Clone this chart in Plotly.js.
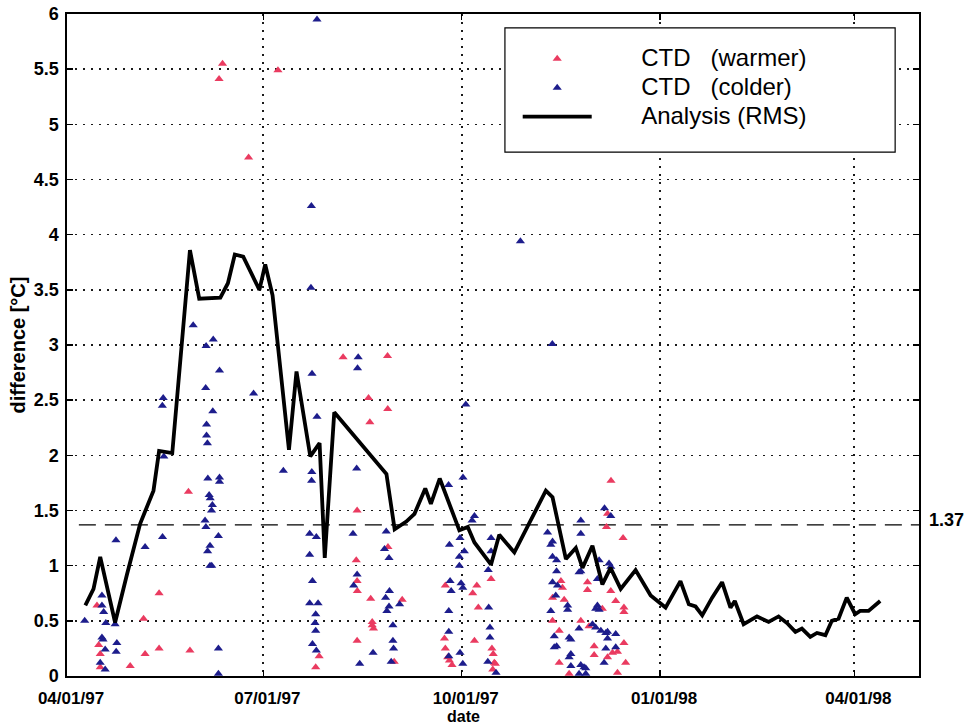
<!DOCTYPE html>
<html>
<head>
<meta charset="utf-8">
<script src="https://cdn.plot.ly/plotly-3.0.1.min.js"></script>
<style>
  html, body { margin: 0; padding: 0; background: #ffffff; }
  #chart { width: 975px; height: 726px; }
</style>
</head>
<body>
<div id="chart"></div>
<script>
// ---- Data (days counted from 1997-04-01) ----
const startDate = '1997-04-01';

// Analysis (RMS) line
const rmsDay = [8.5,12.3,15.4,22.3,27.8,33.9,40.1,42.7,48.8,57.0,61.3,71.1,74.6,77.8,81.7,85.5,89.2,91.9,95.3,102.9,106.4,112.8,117.1,119.5,123.9,148.1,151.9,157.3,161.1,166.1,168.7,172.8,181.9,185.8,188.9,196.6,200.4,207.4,222.0,225.1,231.3,235.9,239.0,243.6,248.2,252.0,256.7,263.6,270.6,277.5,284.4,288.3,291.4,294.5,299.1,303.7,307.6,309.6,313.7,319.9,325.3,329.9,333.8,337.7,340.7,344.6,347.7,351.6,354.6,357.7,361.5,365.4,367.7,371.6,377.0];
const rmsVal = [0.64,0.79,1.08,0.485,0.92,1.38,1.68,2.04,2.02,3.86,3.42,3.43,3.56,3.82,3.80,3.65,3.50,3.73,3.45,2.05,2.76,1.99,2.11,1.07,2.39,1.83,1.33,1.40,1.47,1.70,1.56,1.79,1.32,1.35,1.21,1.01,1.28,1.12,1.68,1.62,1.06,1.16,0.98,1.18,0.83,0.98,0.79,0.96,0.73,0.62,0.86,0.65,0.63,0.55,0.71,0.85,0.62,0.68,0.47,0.54,0.49,0.54,0.48,0.40,0.43,0.355,0.39,0.37,0.50,0.52,0.71,0.56,0.59,0.59,0.68];

// CTD (warmer)
const warmDay = [13.9,42.7,35.5,14.7,15.4,15.4,29.3,36.2,42.7,57.0,56.3,72.1,70.5,84.2,97.8,116.9,115.3,128.0,148.6,139.8,148.7,140.4,134.5,134.1,148.8,134.5,134.6,140.8,155.4,141.5,141.5,142.1,134.5,151.7,190.0,190.7,188.1,175.4,175.0,175.4,176.5,177.3,178.5,188.9,197.0,197.6,198.6,196.6,198.1,197.4,252.2,250.6,250.1,257.8,229.0,241.3,241.3,252.1,254.4,258.2,258.2,225.1,230.5,225.1,238.2,242.0,228.2,248.2,244.4,252.9,255.2,258.2,244.4,250.6,228.2,259.0,232.8,255.2,229.7];
const warmVal = [0.64,0.75,0.52,0.28,0.20,0.08,0.09,0.20,0.25,0.23,1.67,5.55,5.41,4.70,5.49,0.18,0.08,2.89,2.90,2.52,2.42,2.30,1.50,1.05,1.17,0.86,0.77,0.70,0.69,0.49,0.46,0.43,0.32,0.13,0.82,0.62,0.75,0.82,0.34,0.25,0.17,0.14,0.10,0.32,0.25,0.20,0.11,0.88,0.12,0.06,1.77,1.47,1.35,1.25,0.86,0.85,0.78,0.77,0.68,0.62,0.58,0.71,0.69,0.50,0.50,0.45,0.41,0.61,0.27,0.21,0.22,0.30,0.19,0.17,0.12,0.12,0.02,0.03,0.80];

// CTD (colder)
const coldDay = [8.2,16.2,16.2,17.0,18.0,22.3,16.2,16.7,17.7,23.1,22.8,15.4,17.7,22.7,36.2,44.3,44.6,44.2,44.9,58.5,67.8,64.5,70.7,64.3,86.5,67.6,64.7,64.7,65.1,65.3,70.7,70.7,65.9,66.4,67.4,67.0,64.0,64.4,70.2,66.3,65.2,66.3,67.1,70.2,70.2,100.3,113.3,113.1,115.9,113.6,115.9,113.5,113.4,112.5,115.6,112.5,113.8,112.5,116.4,115.3,115.0,115.3,113.8,115.6,135.0,134.7,134.3,132.6,134.5,132.9,141.9,135.7,148.0,147.2,149.3,149.5,147.7,149.3,148.3,151.1,151.1,151.4,150.3,154.2,184.9,183.6,176.9,188.9,187.8,196.6,177.3,182.2,181.9,181.9,184.2,177.6,178.1,177.0,177.0,177.0,182.7,183.5,182.2,183.5,195.3,195.5,196.1,196.1,198.9,196.6,195.1,210.2,225.0,249.2,252.1,238.2,222.8,238.2,225.1,224.3,225.1,227.0,227.0,237.4,238.2,246.7,252.1,251.3,245.9,227.4,225.1,226.6,232.1,224.3,232.1,245.1,246.7,245.9,225.9,233.6,227.0,225.9,237.4,245.1,249.8,254.4,250.6,249.8,254.4,232.8,243.6,247.5,250.6,232.8,233.6,233.6,249.0,239.7,238.2,240.5,237.4,240.5];
const coldVal = [0.50,0.73,0.64,0.58,0.48,0.47,0.35,0.33,0.24,0.30,0.22,0.12,0.06,1.23,1.17,1.26,2.52,2.45,1.99,3.18,3.05,2.99,2.77,2.61,2.56,2.40,2.28,2.18,2.11,1.79,1.80,1.76,1.64,1.61,1.55,1.50,1.41,1.35,1.27,1.18,1.13,1.00,1.00,0.25,0.02,1.86,4.26,3.52,5.95,2.74,2.35,1.85,1.77,1.29,1.26,1.10,0.86,0.66,0.66,0.56,0.48,0.41,0.29,0.23,2.89,2.79,1.88,1.29,0.92,0.82,0.21,0.11,1.31,1.15,1.07,0.77,0.71,0.63,0.59,0.46,0.32,0.25,0.13,0.65,2.46,1.80,1.73,1.45,1.41,1.25,1.19,1.25,1.08,1.00,1.13,0.86,0.77,0.59,0.40,0.18,0.84,0.80,0.21,0.11,0.96,0.62,0.35,0.44,0.03,1.13,0.13,3.94,3.01,1.52,1.45,1.41,1.30,1.29,1.22,1.19,1.08,1.05,0.95,0.94,0.95,1.05,0.99,1.02,0.88,0.82,0.85,0.73,0.64,0.59,0.60,0.61,0.60,0.64,0.36,0.33,0.27,0.26,0.43,0.44,0.39,0.38,0.34,0.25,0.26,0.35,0.47,0.41,0.40,0.17,0.20,0.09,0.12,0.08,0.10,0.07,0.02,0.02];

const rmsMean = 1.37;
const rmsMeanLabel = '1.37';

const xTickDates = ['1997-04-01','1997-07-01','1997-10-01','1998-01-01','1998-04-01'];
const xTickLabels = ['04/01/97','07/01/97','10/01/97','01/01/98','04/01/98'];
const yTickVals = [0,0.5,1,1.5,2,2.5,3,3.5,4,4.5,5,5.5,6];
const yTickLabels = ['0','0.5','1','1.5','2','2.5','3','3.5','4','4.5','5','5.5','6'];
const xRange = ['1997-04-01', '1998-05-01'];
const dashStartDay = 5.5;

const seriesNames = ['CTD\u00a0\u00a0\u00a0(warmer)', 'CTD\u00a0\u00a0\u00a0(colder)', 'Analysis (RMS)'];
const xTitle = 'date';
const yTitle = 'difference [°C]';

// ---- Helpers ----
const DAY0 = Date.parse(startDate + 'T00:00:00Z');
const toMs = d => DAY0 + d * 86400000;
const NB = n => '\u00a0'.repeat(n);
const legendName = s => NB(8) + '<span style="font-size:24px">' + s + '</span>';

const FONT = 'Liberation Sans, Arial, Helvetica, sans-serif';
const RED = '#ea3b60';
const BLUE = '#1d1d8c';

const traces = [
  {
    type: 'scatter', mode: 'markers', name: legendName(seriesNames[0]),
    x: warmDay.map(toMs), y: warmVal,
    marker: { symbol: 'triangle-up', size: 8, color: RED, line: { width: 0 } }
  },
  {
    type: 'scatter', mode: 'markers', name: legendName(seriesNames[1]),
    x: coldDay.map(toMs), y: coldVal,
    marker: { symbol: 'triangle-up', size: 8, color: BLUE, line: { width: 0 } }
  },
  {
    type: 'scatter', mode: 'lines', name: legendName(seriesNames[2]),
    x: rmsDay.map(toMs), y: rmsVal,
    line: { color: '#000000', width: 3.8 }
  }
];

const axisCommon = {
  showline: true, linecolor: '#000', linewidth: 1.6, mirror: 'ticks',
  ticks: 'inside', ticklen: 6, tickwidth: 1.5, tickcolor: '#000',
  showgrid: true, gridcolor: '#1a1a1a', gridwidth: 1.6, griddash: '2px,6px',
  zeroline: false,
  tickfont: { family: FONT, size: 18, color: '#000', weight: 'bold' }
};

const layout = {
  width: 975, height: 726,
  margin: { l: 67, r: 56, t: 14, b: 50 },
  paper_bgcolor: '#ffffff', plot_bgcolor: '#ffffff',
  showlegend: true,
  xaxis: Object.assign({}, axisCommon, {
    type: 'date',
    range: xRange,
    tickmode: 'array',
    tickvals: xTickDates,
    ticktext: xTickLabels,
    ticklabelstandoff: 6,
    ticklabelshift: 4,
    tickfont: { family: FONT, size: 17, color: '#000', weight: 'bold' }
  }),
  yaxis: Object.assign({}, axisCommon, {
    range: [0, 6],
    tickmode: 'array',
    tickvals: yTickVals,
    ticktext: yTickLabels,
    ticklabelstandoff: 3,
    title: { text: yTitle, font: { family: FONT, size: 20, color: '#000', weight: 'bold' }, standoff: 3 }
  }),
  legend: {
    x: 0.529, xanchor: 'left',
    y: 0.962, yanchor: 'top',
    bgcolor: 'rgba(0,0,0,0)', borderwidth: 0,
    itemwidth: 69,
    font: { family: FONT, size: 20, color: '#000' },
    traceorder: 'normal'
  },
  shapes: [
    {
      type: 'line', xref: 'x', yref: 'y', layer: 'below',
      x0: toMs(dashStartDay), x1: xRange[1], y0: rmsMean, y1: rmsMean,
      line: { color: '#000', width: 1.3, dash: '17px,9px' }
    },
    {
      type: 'rect', xref: 'paper', yref: 'paper', layer: 'above',
      x0: 0.514, x1: 0.972, y0: 0.7915, y1: 0.979,
      fillcolor: '#ffffff', line: { color: '#000', width: 1.2 }
    }
  ],
  annotations: [
    {
      xref: 'paper', yref: 'y', x: 1, y: rmsMean, xanchor: 'left', yanchor: 'middle',
      xshift: 8, yshift: 5, showarrow: false, text: rmsMeanLabel,
      font: { family: FONT, size: 18, color: '#000', weight: 'bold' }
    },
    {
      // x-axis title, placed where the reference draws it
      xref: 'paper', yref: 'paper', x: 0.465, y: -0.0755, xanchor: 'center', yanchor: 'bottom',
      showarrow: false, text: xTitle, borderpad: 0,
      font: { family: FONT, size: 16, color: '#000', weight: 'bold' }
    }
  ]
};

Plotly.newPlot('chart', traces, layout, { displayModeBar: false, staticPlot: true });
</script>
</body>
</html>
